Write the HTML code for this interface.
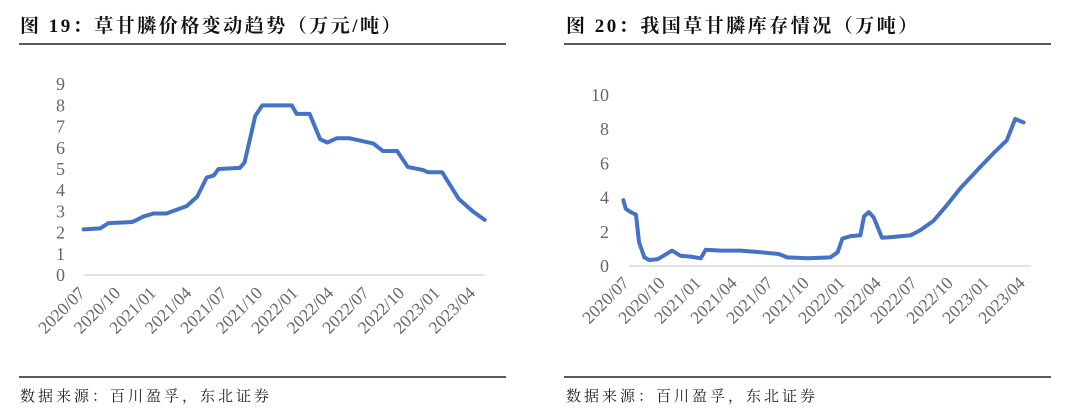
<!DOCTYPE html>
<html><head><meta charset="utf-8"><style>
body{margin:0;background:#fff;width:1080px;height:413px;overflow:hidden}
svg{display:block}
.t{font-family:"Liberation Serif","Noto Serif CJK SC",serif;font-weight:bold;font-size:19px;letter-spacing:2.5px;fill:#111}
.s{font-family:"Liberation Serif","Noto Serif CJK SC",serif;font-size:15px;letter-spacing:3px;fill:#222}
.yl{font-family:"Liberation Serif",serif;font-size:18px;fill:#666}
.xl{font-family:"Liberation Serif",serif;font-size:17.5px;fill:#666}
</style></head><body>
<svg id="c" width="1080" height="413">
<text class="t" x="20" y="32">图 19：草甘膦价格变动趋势（万元/吨）</text>
<line x1="19" y1="44" x2="506" y2="44" stroke="#222" stroke-width="1.5"/>
<line x1="19" y1="377" x2="506" y2="377" stroke="#222" stroke-width="1.5"/>
<text class="s" x="20" y="401">数据来源：百川盈孚，东北证券</text>
<text class="t" x="566" y="32">图 20：我国草甘膦库存情况（万吨）</text>
<line x1="564" y1="44" x2="1051" y2="44" stroke="#222" stroke-width="1.5"/>
<line x1="564" y1="377" x2="1051" y2="377" stroke="#222" stroke-width="1.5"/>
<text class="s" x="566" y="401">数据来源：百川盈孚，东北证券</text>
</svg>
<script>
const xTickLabels=["2020/07","2020/10","2021/01","2021/04","2021/07","2021/10","2022/01","2022/04","2022/07","2022/10","2023/01","2023/04"];
const xTickMonths=[0,3,6,9,12,15,18,21,24,27,30,33];
const priceMonths=[-0.2,1.2,1.9,3.9,4.3,4.8,5.7,6.8,8.5,9.4,10.2,10.8,11.2,13,13.4,13.9,14.3,14.9,17.4,17.8,18.9,19.8,20.4,21.2,22.3,24.3,25.1,26.3,27.2,28.5,28.9,30.1,31.5,32.7,33.7];
const priceValues=[2.15,2.2,2.45,2.5,2.6,2.75,2.9,2.9,3.25,3.7,4.6,4.7,5.0,5.05,5.3,6.5,7.5,8.0,8.0,7.6,7.6,6.4,6.25,6.45,6.45,6.2,5.85,5.85,5.1,4.95,4.85,4.85,3.6,3.0,2.6];
const priceYTicks=[0,1,2,3,4,5,6,7,8,9];
const stockMonths=[-0.55,-0.36,0.06,0.5,0.75,1.2,1.6,2.3,2.8,3.5,4.2,5.06,5.9,6.3,7.6,9.2,10.9,12.4,13.1,14.8,16.7,17.3,17.7,18.4,19.2,19.5,19.9,20.3,21.0,22,23.4,24.2,25.3,26.4,27.6,28.4,29.2,30.3,31.4,32.1,32.6,32.8];
const stockValues=[3.85,3.35,3.15,3.0,1.4,0.5,0.35,0.4,0.6,0.9,0.6,0.55,0.45,0.95,0.9,0.9,0.8,0.7,0.5,0.45,0.5,0.8,1.6,1.75,1.8,2.9,3.15,2.85,1.65,1.7,1.8,2.1,2.65,3.55,4.6,5.2,5.8,6.6,7.35,8.6,8.45,8.4];
const stockYTicks=[0,2,4,6,8,10];
const svg=document.getElementById('c');
const NS='http://www.w3.org/2000/svg';
function mk(tag,attrs){const e=document.createElementNS(NS,tag);for(const k in attrs)e.setAttribute(k,attrs[k]);svg.appendChild(e);return e;}
function draw(p,months,values,yTicks,prefix){
  const xs=m=>p.x0+m*p.pm, ys=v=>p.y0-v*p.pu;
  const g=mk('line',{x1:p.gx1,x2:p.gx2,y1:ys(0),y2:ys(0),stroke:'#d9d9d9','stroke-width':1.5});
  
  
  yTicks.forEach(v=>{const t=mk('text',{x:p.yx,y:ys(v)+6,'text-anchor':'end',class:'yl'});t.textContent=v;
    
    });
  xTickLabels.forEach((l,i)=>{const x=xs(xTickMonths[i]);const t=mk('text',{x:x,y:p.ly,'text-anchor':'end',class:'xl',transform:`rotate(-45 ${x} ${p.ly})`});t.textContent=l;
    
    });
  const d=months.map((m,i)=>(i?'L':'M')+xs(m).toFixed(1)+','+ys(values[i]).toFixed(1)).join(' ');
  const l=mk('path',{d:d,fill:'none',stroke:'#4472c4','stroke-width':4,'stroke-linejoin':'round','stroke-linecap':'round'});
  
  
}
draw({x0:86,pm:11.83,y0:275,pu:21.2,gx1:84,gx2:485,yx:65,ly:294},priceMonths,priceValues,priceYTicks,'price');
draw({x0:630,pm:12,y0:266,pu:17.1,gx1:629,gx2:1031,yx:609,ly:284},stockMonths,stockValues,stockYTicks,'stock');
</script>
</body></html>
